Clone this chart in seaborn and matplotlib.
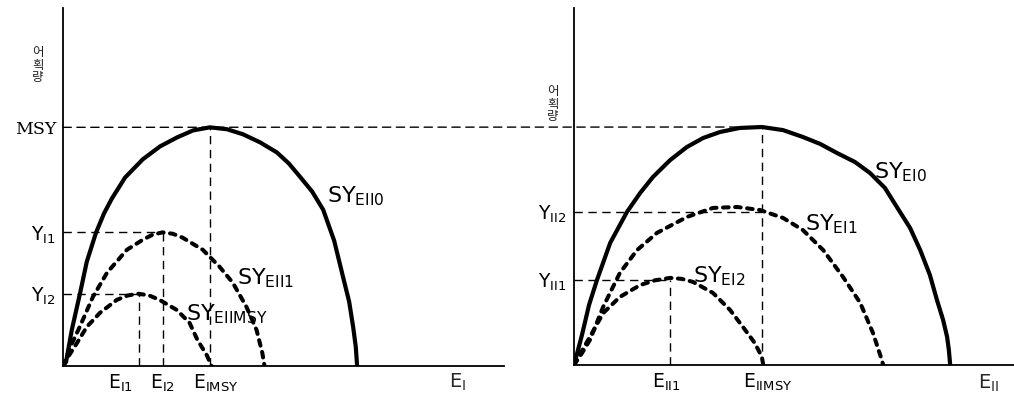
import matplotlib
matplotlib.use("Agg")
import matplotlib.pyplot as plt
import matplotlib.transforms as mtransforms
from matplotlib.patches import ConnectionPatch
import seaborn as sns

sns.set_theme(style="white")
plt.rcParams["font.family"] = ["DejaVu Sans", "Noto Sans CJK KR"]
plt.rcParams["mathtext.fontset"] = "dejavusans"

# ---------------- values ----------------
MSY = 100

# Fleet I: sustainable yield against fleet-I effort, for fleet-II effort levels
ei_curve_ii0 = [0, 0.7, 2.0, 3.9, 5.4, 7.5, 9.3, 11.1, 14.1, 18.1, 22.0, 25.9, 29.5, 33.3,
                37.2, 40.8, 44.7, 48.5, 51.2, 53.7, 56.5, 59.0, 61.5, 63.5, 64.9, 65.8, 66.4, 66.7]
sy_curve_ii0 = [0, 1.7, 15.1, 30.7, 43.7, 55.9, 63.9, 70.2, 79.0, 86.6, 92.0, 95.8, 98.7, 100,
                99.2, 97.1, 93.7, 89.5, 84.9, 79.4, 73.1, 65.5, 52.5, 37.4, 26.9, 16.4, 8.0, 0]

ei_curve_ii1 = [0, 1.8, 3.8, 6.8, 10.0, 14.5, 18.1, 20.3, 22.6, 24.9, 27.1, 31.7, 35.5, 38.5,
                41.6, 43.9, 45.2, 45.7]
sy_curve_ii1 = [0, 8.5, 16.4, 29.0, 39.1, 48.7, 52.9, 55.0, 56.0, 55.4, 53.8, 48.7, 41.6, 34.9,
                24.8, 15.1, 5.5, 0]

ei_curve_iimsy = [0, 1.5, 3.2, 5.4, 8.4, 12.2, 14.6, 17.0, 19.5, 21.9, 25.8, 28.7, 30.5, 32.6, 33.7]
sy_curve_iimsy = [0, 4.8, 9.7, 16.4, 22.3, 27.7, 29.5, 30.3, 29.6, 27.7, 23.5, 18.1, 10.9, 4.6, 0]

E_I1, E_I2, E_IMSY = 17.2, 22.6, 33.3
Y_I1, Y_I2 = 56.0, 30.3

# Fleet II: sustainable yield against fleet-II effort, for fleet-I effort levels
eii_curve_i0 = [0, 1.8, 3.4, 5.2, 8.2, 12.0, 15.0, 17.9, 21.8, 25.6, 29.3, 33.1, 37.6, 42.6,
                47.4, 51.9, 55.8, 59.6, 63.7, 67.1, 70.5, 73.2, 76.2, 78.5, 80.7, 82.3, 83.7,
                84.6, 85.0, 85.3]
sy_curve_i0 = [0, 12.6, 25.2, 35.7, 51.3, 64.3, 72.3, 79.0, 86.1, 91.6, 95.4, 97.9, 99.6, 100,
               98.7, 95.8, 92.9, 89.1, 85.3, 80.7, 74.4, 66.4, 57.6, 48.3, 37.8, 27.3, 18.9,
               11.8, 6.3, 0]

eii_curve_i1 = [0, 1.8, 3.6, 6.6, 10.4, 14.3, 18.8, 25.6, 31.5, 37.0, 42.2, 47.4, 51.9, 56.5,
                61.0, 64.9, 67.8, 69.8, 70.1]
sy_curve_i1 = [0, 5.0, 10.5, 24.4, 38.7, 48.3, 55.5, 62.2, 66.0, 66.4, 65.1, 61.8, 56.7, 48.3,
               37.0, 26.1, 13.4, 2.1, 0]

eii_curve_i2 = [0, 1.8, 3.6, 6.6, 10.4, 15.0, 18.4, 21.8, 24.4, 27.0, 31.5, 35.4, 38.3, 41.0,
                42.6, 42.9]
sy_curve_i2 = [0, 6.0, 11.8, 21.8, 28.6, 33.6, 35.6, 36.6, 36.2, 34.9, 30.3, 23.1, 16.0, 9.2,
               3.4, 0]

E_II1, E_IIMSY = 21.8, 42.6
Y_II2, Y_II1 = 64.3, 35.7

# ---------------- figure ----------------
fig = plt.figure(figsize=(10.14, 3.98), dpi=100)
axL = fig.add_axes([0.0621, 0.0804, 0.4349, 0.8995])
axR = fig.add_axes([0.5661, 0.0829, 0.4349, 0.8970])

solid = dict(color="black", lw=3.0, solid_capstyle="round", solid_joinstyle="round")
dotted = dict(color="black", lw=2.9, dashes=(1.4, 1.6), dash_capstyle="round")
guide = dict(color="black", lw=1.0, dashes=(6, 4))

SUB = dict(fontsize=16, color="black")

# left panel curves
sns.lineplot(x=ei_curve_ii0, y=sy_curve_ii0, sort=False, estimator=None, ax=axL, **solid)
sns.lineplot(x=ei_curve_ii1, y=sy_curve_ii1, sort=False, estimator=None, ax=axL, **dotted)
sns.lineplot(x=ei_curve_iimsy, y=sy_curve_iimsy, sort=False, estimator=None, ax=axL, **dotted)

# left guide lines
axL.plot([E_IMSY, E_IMSY], [0, MSY], **guide)
axL.plot([0, E_I2], [Y_I1, Y_I1], **guide)
axL.plot([E_I2, E_I2], [0, Y_I1], **guide)
axL.plot([0, E_I1], [Y_I2, Y_I2], **guide)
axL.plot([E_I1, E_I1], [0, Y_I2], **guide)

# right panel curves
sns.lineplot(x=eii_curve_i0, y=sy_curve_i0, sort=False, estimator=None, ax=axR, **solid)
sns.lineplot(x=eii_curve_i1, y=sy_curve_i1, sort=False, estimator=None, ax=axR, **dotted)
sns.lineplot(x=eii_curve_i2, y=sy_curve_i2, sort=False, estimator=None, ax=axR, **dotted)

# right guide lines
axR.plot([E_IIMSY, E_IIMSY], [0, MSY], **guide)
axR.plot([0, E_IIMSY], [Y_II2, Y_II2], **guide)
axR.plot([0, E_II1], [Y_II1, Y_II1], **guide)
axR.plot([E_II1, E_II1], [0, Y_II1], **guide)

# MSY level shared by both panels
con = ConnectionPatch(xyA=(0, MSY), coordsA=axL.transData,
                      xyB=(E_IIMSY, MSY), coordsB=axR.transData,
                      color="black", lw=1.0, linestyle=(0, (6, 4)))
fig.add_artist(con)

for ax in (axL, axR):
    ax.set_xlim(0, 100)
    ax.set_ylim(0, 150)
    for s in ("top", "right"):
        ax.spines[s].set_visible(False)
    for s in ("left", "bottom"):
        ax.spines[s].set_color("black")
        ax.spines[s].set_linewidth(1.3)
    ax.tick_params(axis="both", direction="in", length=5, width=1.0, colors="black",
                   labelsize=13.5, pad=5)
    ax.set_facecolor("white")

# ticks and labels
axL.set_xticks([E_I1, E_I2, E_IMSY])
axL.set_xticklabels([r"E$_{\mathrm{I1}}$", r"E$_{\mathrm{I2}}$", r"E$_{\mathrm{IMSY}}$"])
axL.set_yticks([Y_I2, Y_I1, MSY])
axL.set_yticklabels([r"Y$_{\mathrm{I2}}$", r"Y$_{\mathrm{I1}}$", "MSY"])
msy_lbl = axL.get_yticklabels()[2]
msy_lbl.set_fontfamily("DejaVu Serif")
msy_lbl.set_fontsize(12.5)

axR.set_xticks([E_II1, E_IIMSY])
axR.set_xticklabels([r"E$_{\mathrm{II1}}$", r"E$_{\mathrm{IIMSY}}$"])
axR.set_yticks([Y_II1, Y_II2])
axR.set_yticklabels([r"Y$_{\mathrm{II1}}$", r"Y$_{\mathrm{II2}}$"])

# nudge crowded effort labels sideways (offsets in points)
def nudge(label, dx_pt):
    label.set_transform(label.get_transform() +
                        mtransforms.ScaledTranslation(dx_pt / 72, 0, fig.dpi_scale_trans))

xl = axL.get_xticklabels()
nudge(xl[0], -13)
nudge(xl[2], 4)
xr = axR.get_xticklabels()
nudge(xr[0], -3)
nudge(xr[1], 4)

# axis titles
axL.text(0.894, -0.047, r"E$_{\mathrm{I}}$", transform=axL.transAxes, ha="center", va="center", fontsize=14)
axR.text(0.939, -0.05, r"E$_{\mathrm{II}}$", transform=axR.transAxes, ha="center", va="center", fontsize=14)
for ax, xoff, yoff in ((axL, -0.057, 0.84), (axR, -0.048, 0.73)):
    ax.text(xoff, yoff, "어\n획\n량", transform=ax.transAxes, ha="center", va="center",
            fontsize=9, linespacing=0.95, family=["Noto Sans CJK KR"], color="#222222")

# curve labels
axL.text(59.9, 68.5, r"SY$_{\mathrm{EII0}}$", **SUB)
axL.text(39.5, 34.0, r"SY$_{\mathrm{EII1}}$", **SUB)
axL.text(27.9, 19.0, r"SY$_{\mathrm{EIIMSY}}$", **SUB)

axR.text(68.0, 78.6, r"SY$_{\mathrm{EI0}}$", **SUB)
axR.text(52.4, 56.7, r"SY$_{\mathrm{EI1}}$", **SUB)
axR.text(27.0, 34.9, r"SY$_{\mathrm{EI2}}$", **SUB)

fig.savefig("out.png", dpi=100, facecolor="white")
